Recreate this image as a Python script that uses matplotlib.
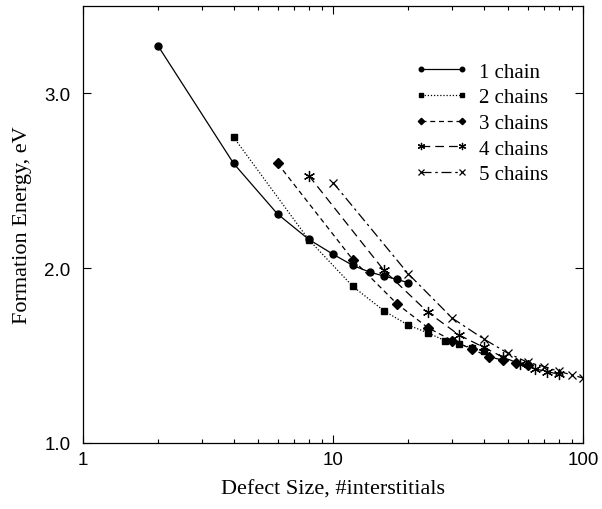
import numpy as np
import matplotlib
matplotlib.use("Agg")
import matplotlib.pyplot as plt
from matplotlib.ticker import FixedLocator, NullFormatter

# defect size (#interstitials) and formation energy (eV) per chain count
x1 = [2, 4, 6, 8, 10, 12, 14, 16, 18, 20]
e1 = [3.27, 2.60, 2.31, 2.165, 2.08, 2.016, 1.978, 1.955, 1.936, 1.917]

x2 = [4, 8, 12, 16, 20, 24, 28, 32, 36, 40]
e2 = [2.75, 2.163, 1.896, 1.756, 1.674, 1.63, 1.586, 1.565, 1.545, 1.527]

x3 = [6, 12, 18, 24, 30, 36, 42, 48, 54, 60]
e3 = [2.60, 2.049, 1.797, 1.659, 1.586, 1.537, 1.493, 1.474, 1.455, 1.447]

x4 = [8, 16, 24, 32, 40, 48, 56, 64, 72, 80]
e4 = [2.53, 1.987, 1.747, 1.617, 1.548, 1.49, 1.453, 1.425, 1.408, 1.394]

x5 = [10, 20, 30, 40, 50, 60, 70, 80, 90, 100]
e5 = [2.49, 1.968, 1.714, 1.596, 1.514, 1.462, 1.437, 1.41, 1.39, 1.372]

labels = ["1 chain", "2 chains", "3 chains", "4 chains", "5 chains"]

serif = ["Liberation Serif", "DejaVu Serif"]
sans = ["Liberation Sans", "DejaVu Sans"]
plt.rcParams["font.family"] = sans

fig = plt.figure(figsize=(6.02, 5.10), dpi=100)
ax = fig.add_axes([83 / 602, 66 / 510, 500 / 602, 437 / 510])

styles = [
    dict(marker="o", ms=5, ls="-"),
    dict(marker="s", ms=5, ls=(0, (1, 1.5))),
    dict(marker="D", ms=5, ls=(0, (4, 3))),
    dict(marker=(6, 2, 0), ms=8, ls=(0, (7, 4)), mew=0.9),
    dict(marker="x", ms=6, ls=(0, (8, 3, 2, 3)), mew=0.9),
]

for xs, es, lab, st in zip([x1, x2, x3, x4, x5], [e1, e2, e3, e4, e5], labels, styles):
    ax.plot(xs, es, color="black", lw=0.9, label=lab, **st)

ax.set_xscale("log")
ax.set_xlim(1, 100)
ax.set_ylim(1.0, 3.5)
ax.set_yticks([1.0, 2.0, 3.0])
ax.set_yticklabels(["1.0", "2.0", "3.0"])
ax.set_xticks([1, 10, 100])
ax.set_xticklabels(["1", "10", "100"])
ax.xaxis.set_minor_locator(FixedLocator([2, 3, 4, 5, 6, 7, 8, 9, 20, 30, 40, 50, 60, 70, 80, 90]))
ax.xaxis.set_minor_formatter(NullFormatter())

ax.tick_params(which="both", direction="in", top=True, right=True, width=0.8)
ax.tick_params(which="major", length=6, labelsize=13.5)
ax.tick_params(axis="x", which="major", pad=6)
ax.tick_params(axis="y", which="major", pad=9)
ax.tick_params(which="minor", length=3)
for s in ax.spines.values():
    s.set_linewidth(0.9)

ax.set_xlabel("Defect Size, #interstitials", family=serif, fontsize=16, labelpad=8)
ax.set_ylabel("Formation Energy, eV", family=serif, fontsize=16, labelpad=9)

ax.legend(loc="upper left", bbox_to_anchor=(0.664, 0.8714), frameon=False,
          prop=dict(family=serif, size=15), numpoints=2, markerscale=0.65,
          borderpad=0, borderaxespad=0,
          handlelength=2.55, handletextpad=0.53, labelspacing=0.29)

fig.savefig("out.png", dpi=100)
